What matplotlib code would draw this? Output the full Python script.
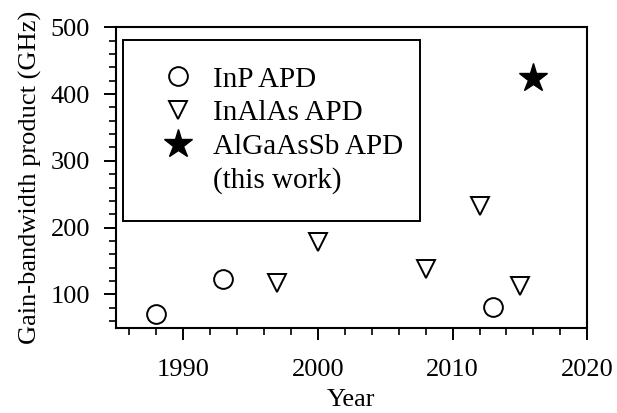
import matplotlib
matplotlib.use("Agg")
import matplotlib.pyplot as plt
from matplotlib.lines import Line2D
from matplotlib.ticker import MultipleLocator

# InP APD
inp_year = [1988, 1993, 2013]
inp_gbp = [71, 123, 81]

# InAlAs APD
inalas_year = [1997, 2000, 2008, 2012, 2015]
inalas_gbp = [117, 178, 138, 233, 113]

# AlGaAsSb APD (this work)
algaassb_year = [2016]
algaassb_gbp = [424]

labels = ["InP APD", "InAlAs APD", "AlGaAsSb APD", "(this work)"]

plt.rcParams["font.family"] = ["Liberation Serif", "DejaVu Serif"]

fig = plt.figure(figsize=(6.17, 4.13), dpi=100)
ax = fig.add_axes([0.1875, 0.2065, 0.7644, 0.7274])

ax.plot(inp_year, inp_gbp, "o", ms=13.5, mfc="none", mec="black", mew=1.4,
        label=labels[0])
ax.plot(inalas_year, inalas_gbp, "v", ms=12.5, mfc="none", mec="black",
        mew=1.4, label=labels[1])
ax.plot(algaassb_year, algaassb_gbp, "*", ms=21.5, color="black",
        label=labels[2])

ax.set_xlim(1985, 2020)
ax.set_ylim(50, 500)
ax.set_xticks([1990, 2000, 2010, 2020])
ax.set_yticks([100, 200, 300, 400, 500])
ax.xaxis.set_minor_locator(MultipleLocator(2))
ax.yaxis.set_minor_locator(MultipleLocator(20))
ax.tick_params(which="major", direction="out", length=8.5, width=1.4,
               labelsize=19)
ax.tick_params(axis="x", which="major", pad=14)
ax.tick_params(axis="y", which="major", pad=10)
ax.tick_params(which="minor", direction="out", length=5, width=1.2)
ax.tick_params(top=False, right=False)
for s in ax.spines.values():
    s.set_linewidth(1.5)

ax.set_xlabel("Year", fontsize=19, labelpad=6)
ax.set_ylabel("Gain-bandwidth product (GHz)", fontsize=19, labelpad=6)

handles, _ = ax.get_legend_handles_labels()
handles.append(Line2D([], [], linestyle="none", marker="none"))
leg = ax.legend(handles, labels, loc="upper left",
                bbox_to_anchor=(0.0148, 0.0, 0.63, 0.9577), mode="expand",
                fontsize=21, frameon=True, fancybox=False, edgecolor="black",
                framealpha=1, borderpad=0.9, labelspacing=0.25,
                handlelength=2.0, handletextpad=0.2, borderaxespad=0)
leg.get_frame().set_linewidth(1.4)

fig.savefig("out.png", dpi=100)
